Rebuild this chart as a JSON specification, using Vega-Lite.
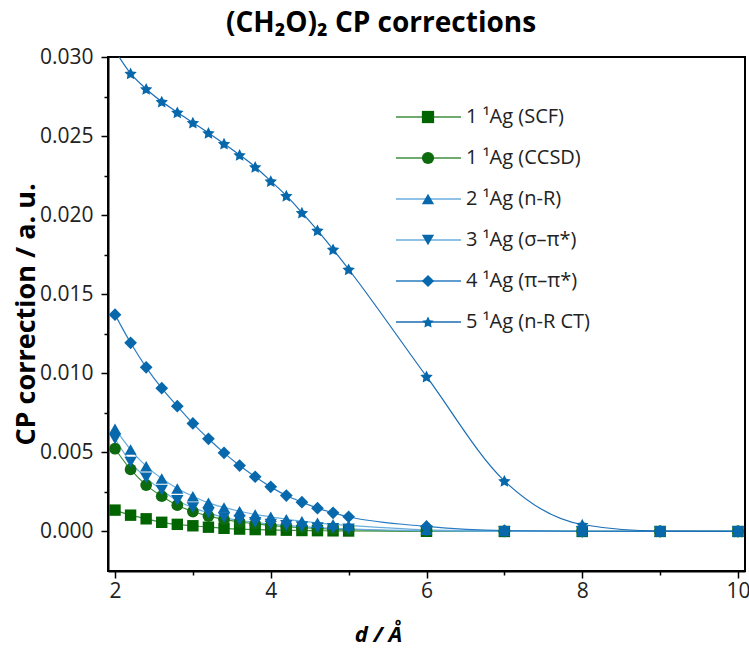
{
"$schema": "https://vega.github.io/schema/vega-lite/v6.json",
"width": 637, "height": 514,
"autosize": {"type": "none"},
"padding": {"left": 108, "top": 57, "right": 4, "bottom": 89},
"background": "white",
"config": {
  "font": "Open Sans",
  "view": {"stroke": "black", "strokeWidth": 2},
  "axis": {"grid": false, "domainColor": "black", "domainWidth": 2, "tickColor": "black", "tickWidth": 1.5, "labelColor": "#222", "titleColor": "black"}
},
"title": {"text": "(CH₂O)₂ CP corrections", "fontSize": 28, "fontWeight": "bold", "anchor": "middle", "frame": "bounds", "offset": 8, "color": "black"},
"data": {"values": [
{"x":2,"y":0.00135,"s":"1 ¹Ag (SCF)","k":1},{"x":2.2,"y":0.00103,"s":"1 ¹Ag (SCF)","k":1},{"x":2.4,"y":0.0008,"s":"1 ¹Ag (SCF)","k":1},{"x":2.6,"y":0.00058,"s":"1 ¹Ag (SCF)","k":1},{"x":2.8,"y":0.00045,"s":"1 ¹Ag (SCF)","k":1},{"x":3,"y":0.00036,"s":"1 ¹Ag (SCF)","k":1},{"x":3.2,"y":0.00027,"s":"1 ¹Ag (SCF)","k":1},{"x":3.4,"y":0.0002,"s":"1 ¹Ag (SCF)","k":1},{"x":3.6,"y":0.00015,"s":"1 ¹Ag (SCF)","k":1},{"x":3.8,"y":0.00012,"s":"1 ¹Ag (SCF)","k":1},{"x":4,"y":0.0001,"s":"1 ¹Ag (SCF)","k":1},{"x":4.2,"y":0.00008,"s":"1 ¹Ag (SCF)","k":1},{"x":4.4,"y":0.00006,"s":"1 ¹Ag (SCF)","k":1},{"x":4.6,"y":0.00005,"s":"1 ¹Ag (SCF)","k":1},{"x":4.8,"y":0.00004,"s":"1 ¹Ag (SCF)","k":1},{"x":5,"y":0.00003,"s":"1 ¹Ag (SCF)","k":1},{"x":6,"y":0.00001,"s":"1 ¹Ag (SCF)","k":1},{"x":7,"y":0,"s":"1 ¹Ag (SCF)","k":1},{"x":8,"y":0,"s":"1 ¹Ag (SCF)","k":1},{"x":9,"y":0,"s":"1 ¹Ag (SCF)","k":1},{"x":10,"y":0,"s":"1 ¹Ag (SCF)","k":1},
{"x":2,"y":0.00523,"s":"1 ¹Ag (CCSD)","k":2},{"x":2.2,"y":0.00392,"s":"1 ¹Ag (CCSD)","k":2},{"x":2.4,"y":0.00293,"s":"1 ¹Ag (CCSD)","k":2},{"x":2.6,"y":0.00223,"s":"1 ¹Ag (CCSD)","k":2},{"x":2.8,"y":0.00166,"s":"1 ¹Ag (CCSD)","k":2},{"x":3,"y":0.00126,"s":"1 ¹Ag (CCSD)","k":2},{"x":3.2,"y":0.00097,"s":"1 ¹Ag (CCSD)","k":2},{"x":3.4,"y":0.00076,"s":"1 ¹Ag (CCSD)","k":2},{"x":3.6,"y":0.0006,"s":"1 ¹Ag (CCSD)","k":2},{"x":3.8,"y":0.00048,"s":"1 ¹Ag (CCSD)","k":2},{"x":4,"y":0.00038,"s":"1 ¹Ag (CCSD)","k":2},{"x":4.2,"y":0.0003,"s":"1 ¹Ag (CCSD)","k":2},{"x":4.4,"y":0.00024,"s":"1 ¹Ag (CCSD)","k":2},{"x":4.6,"y":0.00019,"s":"1 ¹Ag (CCSD)","k":2},{"x":4.8,"y":0.00015,"s":"1 ¹Ag (CCSD)","k":2},{"x":5,"y":0.00012,"s":"1 ¹Ag (CCSD)","k":2},{"x":6,"y":0.00003,"s":"1 ¹Ag (CCSD)","k":2},{"x":7,"y":0.00001,"s":"1 ¹Ag (CCSD)","k":2},{"x":8,"y":0,"s":"1 ¹Ag (CCSD)","k":2},{"x":9,"y":0,"s":"1 ¹Ag (CCSD)","k":2},{"x":10,"y":0,"s":"1 ¹Ag (CCSD)","k":2},
{"x":2,"y":0.0065,"s":"2 ¹Ag (n-R)","k":3},{"x":2.2,"y":0.00518,"s":"2 ¹Ag (n-R)","k":3},{"x":2.4,"y":0.00413,"s":"2 ¹Ag (n-R)","k":3},{"x":2.6,"y":0.00335,"s":"2 ¹Ag (n-R)","k":3},{"x":2.8,"y":0.00272,"s":"2 ¹Ag (n-R)","k":3},{"x":3,"y":0.00223,"s":"2 ¹Ag (n-R)","k":3},{"x":3.2,"y":0.00181,"s":"2 ¹Ag (n-R)","k":3},{"x":3.4,"y":0.00152,"s":"2 ¹Ag (n-R)","k":3},{"x":3.6,"y":0.00128,"s":"2 ¹Ag (n-R)","k":3},{"x":3.8,"y":0.00107,"s":"2 ¹Ag (n-R)","k":3},{"x":4,"y":0.00093,"s":"2 ¹Ag (n-R)","k":3},{"x":4.2,"y":0.00077,"s":"2 ¹Ag (n-R)","k":3},{"x":4.4,"y":0.00065,"s":"2 ¹Ag (n-R)","k":3},{"x":4.6,"y":0.00055,"s":"2 ¹Ag (n-R)","k":3},{"x":4.8,"y":0.00045,"s":"2 ¹Ag (n-R)","k":3},{"x":5,"y":0.00038,"s":"2 ¹Ag (n-R)","k":3},{"x":6,"y":0.0001,"s":"2 ¹Ag (n-R)","k":3},{"x":7,"y":0.00003,"s":"2 ¹Ag (n-R)","k":3},{"x":8,"y":0.00001,"s":"2 ¹Ag (n-R)","k":3},{"x":9,"y":0,"s":"2 ¹Ag (n-R)","k":3},{"x":10,"y":0,"s":"2 ¹Ag (n-R)","k":3},
{"x":2,"y":0.00586,"s":"3 ¹Ag (σ–π*)","k":4},{"x":2.2,"y":0.00438,"s":"3 ¹Ag (σ–π*)","k":4},{"x":2.4,"y":0.00339,"s":"3 ¹Ag (σ–π*)","k":4},{"x":2.6,"y":0.00261,"s":"3 ¹Ag (σ–π*)","k":4},{"x":2.8,"y":0.00196,"s":"3 ¹Ag (σ–π*)","k":4},{"x":3,"y":0.0015,"s":"3 ¹Ag (σ–π*)","k":4},{"x":3.2,"y":0.00118,"s":"3 ¹Ag (σ–π*)","k":4},{"x":3.4,"y":0.00088,"s":"3 ¹Ag (σ–π*)","k":4},{"x":3.6,"y":0.00071,"s":"3 ¹Ag (σ–π*)","k":4},{"x":3.8,"y":0.00058,"s":"3 ¹Ag (σ–π*)","k":4},{"x":4,"y":0.00047,"s":"3 ¹Ag (σ–π*)","k":4},{"x":4.2,"y":0.00038,"s":"3 ¹Ag (σ–π*)","k":4},{"x":4.4,"y":0.00031,"s":"3 ¹Ag (σ–π*)","k":4},{"x":4.6,"y":0.00025,"s":"3 ¹Ag (σ–π*)","k":4},{"x":4.8,"y":0.0002,"s":"3 ¹Ag (σ–π*)","k":4},{"x":5,"y":0.00016,"s":"3 ¹Ag (σ–π*)","k":4},{"x":6,"y":0.00004,"s":"3 ¹Ag (σ–π*)","k":4},{"x":7,"y":0.00001,"s":"3 ¹Ag (σ–π*)","k":4},{"x":8,"y":0,"s":"3 ¹Ag (σ–π*)","k":4},{"x":9,"y":0,"s":"3 ¹Ag (σ–π*)","k":4},{"x":10,"y":0,"s":"3 ¹Ag (σ–π*)","k":4},
{"x":2,"y":0.01371,"s":"4 ¹Ag (π–π*)","k":5},{"x":2.2,"y":0.01193,"s":"4 ¹Ag (π–π*)","k":5},{"x":2.4,"y":0.01038,"s":"4 ¹Ag (π–π*)","k":5},{"x":2.6,"y":0.00906,"s":"4 ¹Ag (π–π*)","k":5},{"x":2.8,"y":0.00792,"s":"4 ¹Ag (π–π*)","k":5},{"x":3,"y":0.00683,"s":"4 ¹Ag (π–π*)","k":5},{"x":3.2,"y":0.00586,"s":"4 ¹Ag (π–π*)","k":5},{"x":3.4,"y":0.00497,"s":"4 ¹Ag (π–π*)","k":5},{"x":3.6,"y":0.00417,"s":"4 ¹Ag (π–π*)","k":5},{"x":3.8,"y":0.00346,"s":"4 ¹Ag (π–π*)","k":5},{"x":4,"y":0.00282,"s":"4 ¹Ag (π–π*)","k":5},{"x":4.2,"y":0.00227,"s":"4 ¹Ag (π–π*)","k":5},{"x":4.4,"y":0.00185,"s":"4 ¹Ag (π–π*)","k":5},{"x":4.6,"y":0.00147,"s":"4 ¹Ag (π–π*)","k":5},{"x":4.8,"y":0.00118,"s":"4 ¹Ag (π–π*)","k":5},{"x":5,"y":0.00093,"s":"4 ¹Ag (π–π*)","k":5},{"x":6,"y":0.00032,"s":"4 ¹Ag (π–π*)","k":5},{"x":7,"y":0.00005,"s":"4 ¹Ag (π–π*)","k":5},{"x":8,"y":0.00001,"s":"4 ¹Ag (π–π*)","k":5},{"x":9,"y":0,"s":"4 ¹Ag (π–π*)","k":5},{"x":10,"y":0,"s":"4 ¹Ag (π–π*)","k":5},
{"x":2,"y":0.0304,"s":"5 ¹Ag (n-R CT)","k":6},{"x":2.2,"y":0.02896,"s":"5 ¹Ag (n-R CT)","k":6},{"x":2.4,"y":0.02798,"s":"5 ¹Ag (n-R CT)","k":6},{"x":2.6,"y":0.02718,"s":"5 ¹Ag (n-R CT)","k":6},{"x":2.8,"y":0.0265,"s":"5 ¹Ag (n-R CT)","k":6},{"x":3,"y":0.02585,"s":"5 ¹Ag (n-R CT)","k":6},{"x":3.2,"y":0.0252,"s":"5 ¹Ag (n-R CT)","k":6},{"x":3.4,"y":0.02452,"s":"5 ¹Ag (n-R CT)","k":6},{"x":3.6,"y":0.02381,"s":"5 ¹Ag (n-R CT)","k":6},{"x":3.8,"y":0.02305,"s":"5 ¹Ag (n-R CT)","k":6},{"x":4,"y":0.02216,"s":"5 ¹Ag (n-R CT)","k":6},{"x":4.2,"y":0.02123,"s":"5 ¹Ag (n-R CT)","k":6},{"x":4.4,"y":0.02016,"s":"5 ¹Ag (n-R CT)","k":6},{"x":4.6,"y":0.01904,"s":"5 ¹Ag (n-R CT)","k":6},{"x":4.8,"y":0.01784,"s":"5 ¹Ag (n-R CT)","k":6},{"x":5,"y":0.01658,"s":"5 ¹Ag (n-R CT)","k":6},{"x":6,"y":0.0098,"s":"5 ¹Ag (n-R CT)","k":6},{"x":7,"y":0.0032,"s":"5 ¹Ag (n-R CT)","k":6},{"x":8,"y":0.00044,"s":"5 ¹Ag (n-R CT)","k":6},{"x":9,"y":0.00002,"s":"5 ¹Ag (n-R CT)","k":6},{"x":10,"y":0,"s":"5 ¹Ag (n-R CT)","k":6}
]},
"layer": [
  {
    "mark": {"type": "line", "interpolate": "monotone", "strokeWidth": 1.2, "clip": true},
    "encoding": {
      "x": {"field": "x", "type": "quantitative", "scale": {"domain": [1.91, 10.09], "nice": false, "zero": false},
        "axis": {"orient": "bottom", "values": [2, 4, 6, 8, 10], "tickSize": 7, "labelFontSize": 21, "labelPadding": 2, "title": "d / Å", "titleFontSize": 22, "titleFontWeight": "bold", "titleFontStyle": "italic", "titleX": 270, "titleY": 70, "titleAlign": "center", "titleBaseline": "alphabetic"}},
      "y": {"field": "y", "type": "quantitative", "scale": {"domain": [-0.0025, 0.03], "nice": false, "zero": false},
        "axis": {"orient": "left", "values": [0, 0.005, 0.01, 0.015, 0.02, 0.025, 0.03], "format": ".3f", "tickSize": 7, "labelFontSize": 21, "labelPadding": 8, "title": "CP correction / a. u.", "titleFontSize": 27, "titleFontWeight": "bold", "titleX": -82, "titleY": 257, "titleAlign": "center", "titleBaseline": "middle", "titleAngle": -90}},
      "stroke": {"field": "k", "type": "nominal",
        "scale": {"domain": [1, 2, 3, 4, 5, 6], "range": ["#3f8f3f", "#3f8f3f", "#6aaede", "#6aaede", "#2a7cc2", "#1a6db5"]},
        "legend": {"orient": "none", "legendX": 287, "legendY": 50, "symbolType": "stroke", "symbolSize": 4225, "symbolStrokeWidth": 1.5, "labelOpacity": 0, "labelFontSize": 1, "title": null, "clipHeight": 20, "rowPadding": 21, "padding": 0}}
    }
  },
  {
    "transform": [{"filter": "!(datum.k == 6 && datum.x == 2)"}],
    "mark": {"type": "point", "filled": true, "opacity": 1, "strokeWidth": 0, "clip": true},
    "encoding": {
      "x": {"field": "x", "type": "quantitative", "scale": {"domain": [1.91, 10.09], "nice": false, "zero": false},
        "axis": {"orient": "bottom", "values": [3, 5, 7, 9], "tickSize": 4, "labels": false, "domain": false, "title": null}},
      "y": {"field": "y", "type": "quantitative", "scale": {"domain": [-0.0025, 0.03], "nice": false, "zero": false},
        "axis": {"orient": "left", "values": [0.0025, 0.0075, 0.0125, 0.0175, 0.0225, 0.0275], "tickSize": 4, "labels": false, "domain": false, "title": null}},
      "fill": {"field": "s", "type": "nominal",
        "scale": {"domain": ["1 ¹Ag (SCF)", "1 ¹Ag (CCSD)", "2 ¹Ag (n-R)", "3 ¹Ag (σ–π*)", "4 ¹Ag (π–π*)", "5 ¹Ag (n-R CT)"], "range": ["#006400", "#0e6a0e", "#0868ac", "#0868ac", "#0868ac", "#0868ac"]},
        "legend": {"orient": "none", "legendX": 310, "legendY": 50, "title": null, "labelFontSize": 20, "labelColor": "#222", "clipHeight": 20, "rowPadding": 21, "labelOffset": 28, "symbolSize": 150, "symbolStrokeWidth": 0, "padding": 0}},
      "shape": {"field": "s", "type": "nominal",
        "scale": {"domain": ["1 ¹Ag (SCF)", "1 ¹Ag (CCSD)", "2 ¹Ag (n-R)", "3 ¹Ag (σ–π*)", "4 ¹Ag (π–π*)", "5 ¹Ag (n-R CT)"], "range": ["square", "circle", "triangle-up", "triangle-down", "diamond", "M0,-0.9L0.294,-0.305L0.951,-0.209L0.476,0.255L0.588,0.909L0,0.6L-0.588,0.909L-0.476,0.255L-0.951,-0.209L-0.294,-0.305Z"]},
        "legend": {"orient": "none", "legendX": 310, "legendY": 50, "title": null, "labelFontSize": 20, "labelColor": "#222", "clipHeight": 20, "rowPadding": 21, "labelOffset": 28, "symbolSize": 150, "symbolStrokeWidth": 0, "padding": 0}},
      "size": {"field": "k", "type": "nominal", "legend": null,
        "scale": {"range": [130, 170, 220, 220, 260, 300]}}
    }
  }
],
"resolve": {"axis": {"x": "independent", "y": "independent"}}
}
